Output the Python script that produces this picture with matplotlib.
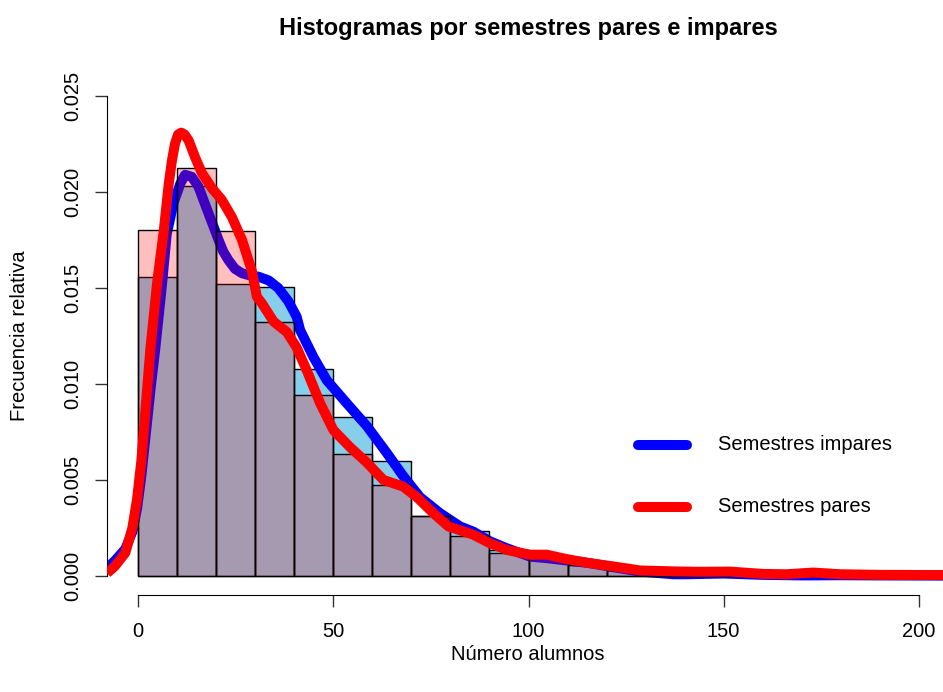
import matplotlib

matplotlib.use("Agg")
import matplotlib.pyplot as plt
from matplotlib.lines import Line2D

plt.rcParams["font.family"] = ["Liberation Sans", "DejaVu Sans"]

# histogram bins (width 10) and relative frequencies
bin_edges = [0, 10, 20, 30, 40, 50, 60, 70, 80, 90, 100,
             110, 120, 130, 140, 150, 160, 170, 180, 190, 200]
impares_freq = [0.01556, 0.02031, 0.01521, 0.01505, 0.01080, 0.00830, 0.00599,
                0.00312, 0.00236, 0.00135, 0.00108, 0.00058, 0.00028, 0.00010,
                0.00010, 0.00015, 0.00003, 0.00005, 0.00004, 0.00002]
pares_freq = [0.01800, 0.02127, 0.01795, 0.01321, 0.00944, 0.00634, 0.00472,
              0.00310, 0.00205, 0.00120, 0.00104, 0.00055, 0.00028, 0.00020,
              0.00020, 0.00018, 0.00010, 0.00012, 0.00008, 0.00005]

# density estimates (traced)
impares_x = [-8.5, -5.9, -3.3, -1.5, -0.3, 0.8, 2.0, 3.2, 4.35, 6.1, 7.3, 9.0,
             10.8, 12.0, 13.7, 15.4, 16.7, 18.0, 19.3, 20.6, 21.8, 23.1, 24.8,
             26.6, 28.2, 30.8, 33.4, 35.9, 38.5, 40.6, 41.5, 44.9, 48.3, 53.4,
             58.6, 63.7, 67.9, 72.2, 77.3, 82.5, 85.9, 90.1, 94.4, 100.4, 104.7,
             109.8, 115.7, 121.7, 128.6, 137.1, 140, 150, 160, 170, 180, 190, 208]
impares_y = [0.00030, 0.00080, 0.00140, 0.0023, 0.0035, 0.0052, 0.0075, 0.0098,
             0.0118, 0.0152, 0.0178, 0.0194, 0.02045, 0.0209, 0.0208, 0.0203,
             0.0196, 0.0189, 0.0182, 0.0175, 0.0169, 0.01646, 0.0160, 0.01577,
             0.01568, 0.01559, 0.0154, 0.0150, 0.0143, 0.0135, 0.0128, 0.0114,
             0.0102, 0.0090, 0.0078, 0.0064, 0.0052, 0.0041, 0.00327, 0.00257,
             0.0023, 0.0018, 0.00144, 0.0010, 0.00092, 0.0008, 0.00066, 0.00045,
             0.00022, 0.00008, 0.00008, 0.00012, 0.00005, 0.00002, 0.00003,
             0.00002, 0.00001]
pares_x = [-8.0, -6.0, -3.3, -1.5, -0.3, 0.8, 1.8, 3.1, 4.8, 6.5, 7.8, 8.6,
           9.4, 10.2, 11.0, 11.9, 12.9, 14.6, 16.3, 18.9, 21.4, 24.0, 26.6,
           29.1, 30.4, 31.7, 34.7, 38.1, 40.6, 43.2, 46.6, 50.0, 54.3, 58.6,
           62.8, 67.9, 71.4, 75.6, 79.5, 85.9, 90.1, 94.4, 100.4, 104.7, 109.8,
           115.7, 121.7, 128.6, 137.1, 144, 151.6, 160, 166, 173, 180, 190, 208]
pares_y = [0.00014, 0.0005, 0.0012, 0.0025, 0.0040, 0.0060, 0.0085, 0.0118,
           0.0152, 0.0179, 0.0204, 0.0216, 0.0225, 0.0230, 0.0231, 0.0230,
           0.0227, 0.0218, 0.0210, 0.0202, 0.0196, 0.0187, 0.0175, 0.0159,
           0.01455, 0.0142, 0.01325, 0.0127, 0.0119, 0.0107, 0.0090, 0.0076,
           0.0067, 0.0059, 0.0050, 0.00465, 0.0041, 0.00327, 0.00257, 0.00214,
           0.0017, 0.00135, 0.0011, 0.0011, 0.00087, 0.00066, 0.00049, 0.00028,
           0.00023, 0.00021, 0.00022, 0.00010, 0.00008, 0.00017, 0.00008,
           0.00005, 0.00004]

legend_labels = ["Semestres impares", "Semestres pares"]
blue, red = "#0000FF", "#FF0000"
pink = (1, 0, 0, 0.25)

W, H = 943, 692
fig = plt.figure(figsize=(W / 100, H / 100), dpi=100)
ax = fig.add_axes([107 / W, 1 - 595 / H, (950 - 107) / W, (595 - 77) / H])

lefts = bin_edges[:-1]
ax.bar(lefts, impares_freq, width=10, align="edge", color="skyblue",
       edgecolor="black", linewidth=1, zorder=1)
ax.plot(impares_x, impares_y, color=blue, lw=7.2, solid_capstyle="butt",
        solid_joinstyle="round", zorder=2)
ax.bar(lefts, pares_freq, width=10, align="edge", color=pink,
       edgecolor="black", linewidth=1, zorder=3)
ax.plot(pares_x, pares_y, color=red, lw=7.2, solid_capstyle="butt",
        solid_joinstyle="round", zorder=4)

ax.set_xlim(-8, 208)
ax.set_ylim(-0.001, 0.026)
ax.set_xticks([0, 50, 100, 150, 200])
ax.set_yticks([0, 0.005, 0.010, 0.015, 0.020, 0.025])
ax.set_yticklabels(["0.000", "0.005", "0.010", "0.015", "0.020", "0.025"],
                   rotation=90, va="center")
ax.tick_params(labelsize=14.5, length=8.6, width=1, color="#333333")
ax.tick_params(axis="y", pad=9)
ax.tick_params(axis="x", pad=11)
for side in ("top", "right"):
    ax.spines[side].set_visible(False)
ax.spines["left"].set_bounds(0, 0.025)
ax.spines["bottom"].set_bounds(0, 200)
ax.patch.set_visible(False)

fig.text(528 / W, 1 - 28 / H, "Histogramas por semestres pares e impares",
         ha="center", va="center", fontsize=17, fontweight="bold")
fig.text(528 / W, 1 - 655 / H, "Número alumnos", ha="center", va="center",
         fontsize=14.5)
fig.text(20 / W, 1 - 336 / H, "Frecuencia relativa", ha="center", va="center",
         rotation=90, fontsize=14.5)

# legend without a box
for i, (lab, col) in enumerate(zip(legend_labels, [blue, red])):
    yy = 1 - (445 + 62 * i) / H
    fig.add_artist(Line2D([638 / W, 687 / W], [yy, yy], color=col, lw=7.2,
                          solid_capstyle="round"))
    fig.text(718 / W, yy, lab, ha="left", va="center", fontsize=14.5)

fig.savefig("out.png", dpi=100)
